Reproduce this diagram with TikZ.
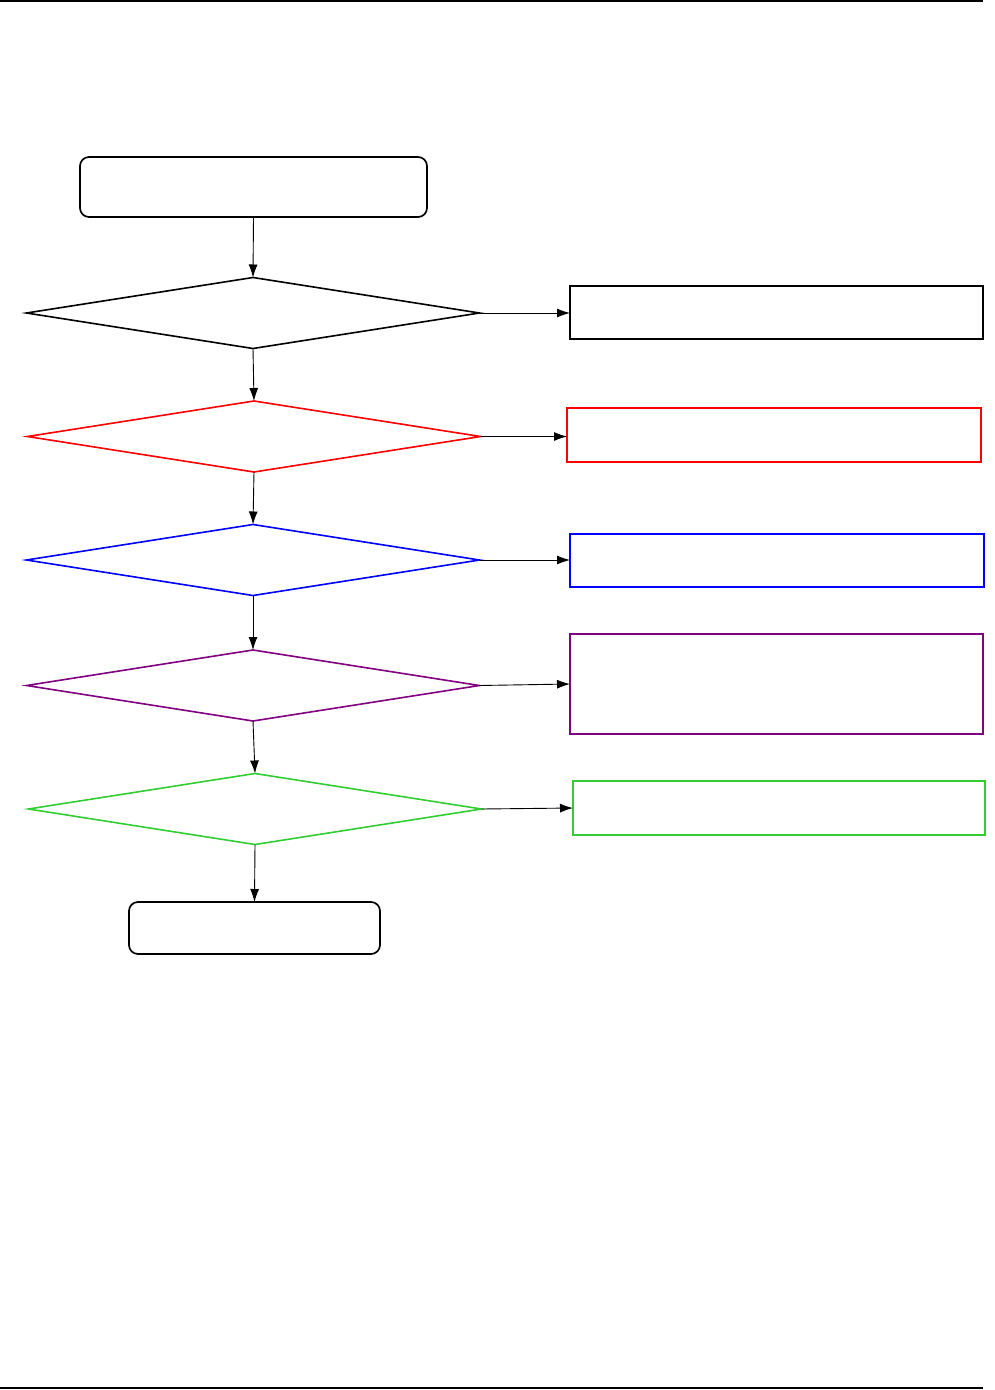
\documentclass[tikz,border=0pt]{standalone}
\usetikzlibrary{shapes.geometric,arrows.meta}
\definecolor{cred}{RGB}{255,0,0}
\definecolor{cblue}{RGB}{0,0,255}
\definecolor{cpurple}{RGB}{128,0,128}
\definecolor{cgreen}{RGB}{50,205,50}
\tikzset{
  term/.style={draw, rounded corners=9pt, line width=1.7pt, inner sep=0pt, outer sep=0pt},
  decision/.style={draw, diamond, minimum width=453pt, minimum height=71pt, inner sep=0pt, outer sep=0pt, line width=1.6pt},
  actbox/.style={draw, rectangle, minimum width=413pt, minimum height=53pt, inner sep=0pt, outer sep=0pt, line width=1.6pt},
  conn/.style={-{Latex[length=13pt,width=9pt]}, line width=0.9pt, black},
  rule/.style={line width=1.4pt}
}
\begin{document}
\begin{tikzpicture}[x=1pt,y=-1pt]
\path[use as bounding box] (0,0) rectangle (995,1390);
\coordinate (tl) at (0,1); \coordinate (tr) at (983,1);
\coordinate (bl) at (0,1388); \coordinate (br) at (983,1388);
\draw[rule] (tl) -- (tr);
\draw[rule] (bl) -- (br);

\node[term, minimum width=347pt, minimum height=60pt] (start) at (253.5,187) {};
\node[decision] (d1) at (253,313) {};
\node[decision, draw=cred] (d2) at (254,436.5) {};
\node[decision, draw=cblue] (d3) at (253,560) {};
\node[decision, draw=cpurple] (d4) at (253,685.5) {};
\node[decision, draw=cgreen] (d5) at (255,809) {};
\node[term, minimum width=251pt, minimum height=52pt] (end) at (254.5,928) {};

\node[actbox] (b1) at (776.5,312.5) {};
\node[actbox, draw=cred, minimum width=414pt, minimum height=54pt] (b2) at (774,435) {};
\node[actbox, draw=cblue, minimum width=414pt] (b3) at (777,560.5) {};
\node[actbox, draw=cpurple, minimum height=100pt] (b4) at (776.5,684) {};
\node[actbox, draw=cgreen, minimum width=412pt, minimum height=54pt] (b5) at (779,808) {};

\draw[conn] (start.south) -- (d1.north);
\draw[conn] (d1.south) -- (d2.north);
\draw[conn] (d2.south) -- (d3.north);
\draw[conn] (d3.south) -- (d4.north);
\draw[conn] (d4.south) -- (d5.north);
\draw[conn] (d5.south) -- (end.north);

\draw[conn] (d1.east) -- (d1.east -| b1.west);
\draw[conn] (d2.east) -- (d2.east -| b2.west);
\draw[conn] (d3.east) -- (d3.east -| b3.west);
\draw[conn] (d4.east) -- (b4.west);
\draw[conn] (d5.east) -- (b5.west);
\end{tikzpicture}
\end{document}
